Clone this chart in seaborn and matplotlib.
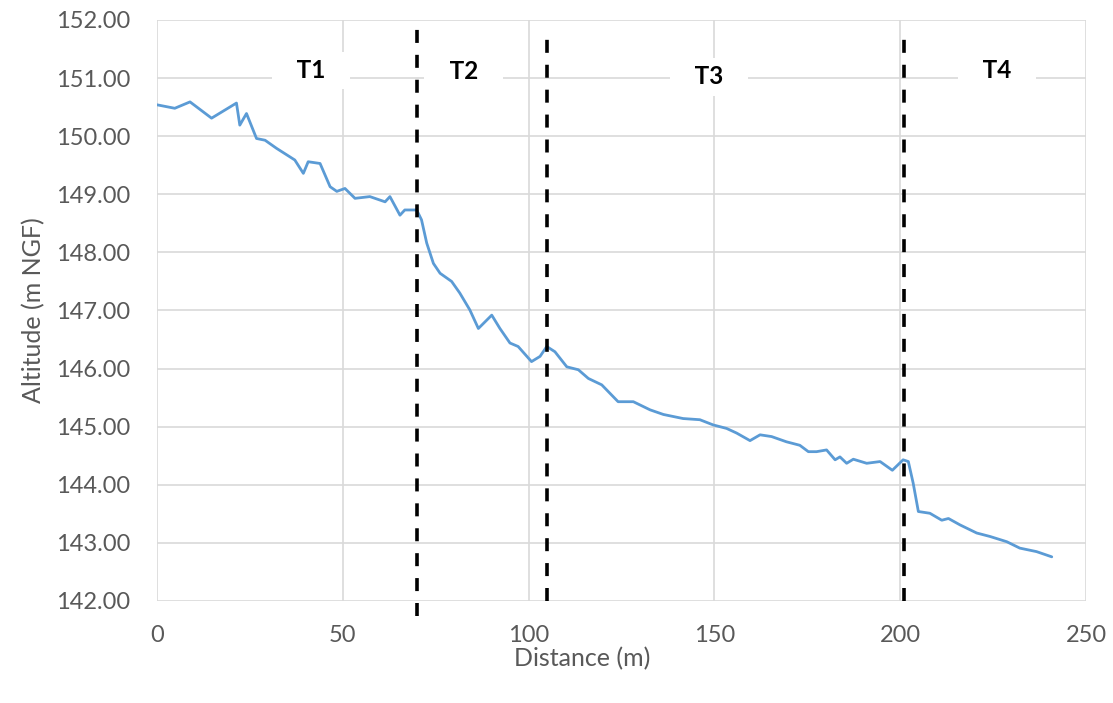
import matplotlib
matplotlib.use("Agg")
import matplotlib.pyplot as plt
import seaborn as sns
from matplotlib.ticker import FormatStrFormatter

# Longitudinal profile of the reach
distance = [0, 4.8, 8.9, 14.7, 21.4, 22.3, 24.1, 26.8, 29.1, 32.2, 34.9, 37.1,
            39.4, 40.7, 43.9, 46.6, 48.4, 50.6, 53.3, 57.3, 61.4, 62.7, 65.4,
            66.7, 69.9, 71.2, 72.6, 74.4, 76.2, 79.3, 81.5, 84.2, 86.5, 90.1,
            92.3, 95.0, 97.2, 100.8, 103.1, 104.9, 107.1, 110.3, 113.4, 116.1,
            119.7, 124.1, 128.2, 132.7, 136.3, 141.6, 146.1, 149.7, 153.3,
            156.0, 159.6, 162.3, 165.4, 169.4, 173.0, 175.3, 177.5, 180.2,
            182.5, 183.8, 185.6, 187.4, 191.0, 194.6, 197.9, 200.8, 202.2,
            203.5, 204.9, 208.0, 211.2, 213.0, 216.1, 220.6, 224.2, 228.7,
            232.2, 236.7, 240.8]
altitude = [150.54, 150.48, 150.59, 150.31, 150.57, 150.19, 150.39, 149.96,
            149.93, 149.79, 149.68, 149.59, 149.36, 149.56, 149.53, 149.13,
            149.05, 149.10, 148.93, 148.96, 148.87, 148.96, 148.64, 148.73,
            148.73, 148.56, 148.16, 147.81, 147.64, 147.50, 147.30, 147.01,
            146.69, 146.92, 146.69, 146.44, 146.38, 146.12, 146.21, 146.38,
            146.29, 146.03, 145.98, 145.83, 145.72, 145.43, 145.43, 145.29,
            145.21, 145.14, 145.12, 145.03, 144.97, 144.89, 144.76, 144.86,
            144.83, 144.74, 144.68, 144.57, 144.57, 144.60, 144.43, 144.48,
            144.37, 144.44, 144.37, 144.40, 144.25, 144.43, 144.40, 144.03,
            143.54, 143.51, 143.39, 143.42, 143.31, 143.17, 143.11, 143.02,
            142.91, 142.85, 142.76]

# Section boundaries and section names
boundaries = [70, 105, 201]
section_names = ["T1", "T2", "T3", "T4"]
section_label_x = [41.5, 82.5, 148.5, 226.0]
section_label_y = [151.13, 151.11, 151.02, 151.13]

x_ticks = [0, 50, 100, 150, 200, 250]
y_ticks = [142, 143, 144, 145, 146, 147, 148, 149, 150, 151, 152]

sns.set_style("white")
plt.rcParams["font.family"] = ["Lato", "DejaVu Sans"]

fig = plt.figure(figsize=(11.13, 7.03), dpi=100)
ax = fig.add_axes([0.141, 0.1451, 0.8347, 0.8265])

grid_color = "#d9d9d9"
text_color = "#595959"

sns.lineplot(x=distance, y=altitude, ax=ax, color="#5b9bd5", linewidth=2.0,
             zorder=3)

# Dashed separators between sections
extents = [(-0.025, 1.0), (0.0, 0.97), (0.0, 0.97)]
for xb, (lo, hi) in zip(boundaries, extents):
    ax.axvline(xb, ymin=lo, ymax=hi, color="black", linewidth=2.6,
               dashes=(3.6, 3.3), zorder=4, clip_on=False)

# Section names on white panels that break the gridlines
for name, lx, ly in zip(section_names, section_label_x, section_label_y):
    ax.text(lx, ly, f"   {name}   ", ha="center", va="center", fontsize=17.5,
            fontweight="bold", color="black", zorder=5,
            bbox=dict(facecolor="white", edgecolor="none",
                      boxstyle="square,pad=0.3"))

ax.set_xlim(0, 250)
ax.set_ylim(142, 152)
ax.set_xticks(x_ticks)
ax.set_yticks(y_ticks)
ax.yaxis.set_major_formatter(FormatStrFormatter("%.2f"))
ax.grid(True, color=grid_color, linewidth=1.2, zorder=0)
ax.set_axisbelow(True)
for s in ax.spines.values():
    s.set_visible(False)
ax.tick_params(axis="both", length=0, labelsize=17, colors=text_color)
ax.tick_params(axis="x", pad=17)
ax.tick_params(axis="y", pad=19)

ax.set_xlabel("Distance (m)", fontsize=18, color=text_color, labelpad=1)
ax.xaxis.label.set_x(0.4575)
ax.set_ylabel("Altitude (m NGF)", fontsize=18, color=text_color, labelpad=8)

fig.savefig("out.png", dpi=100, facecolor="white")
